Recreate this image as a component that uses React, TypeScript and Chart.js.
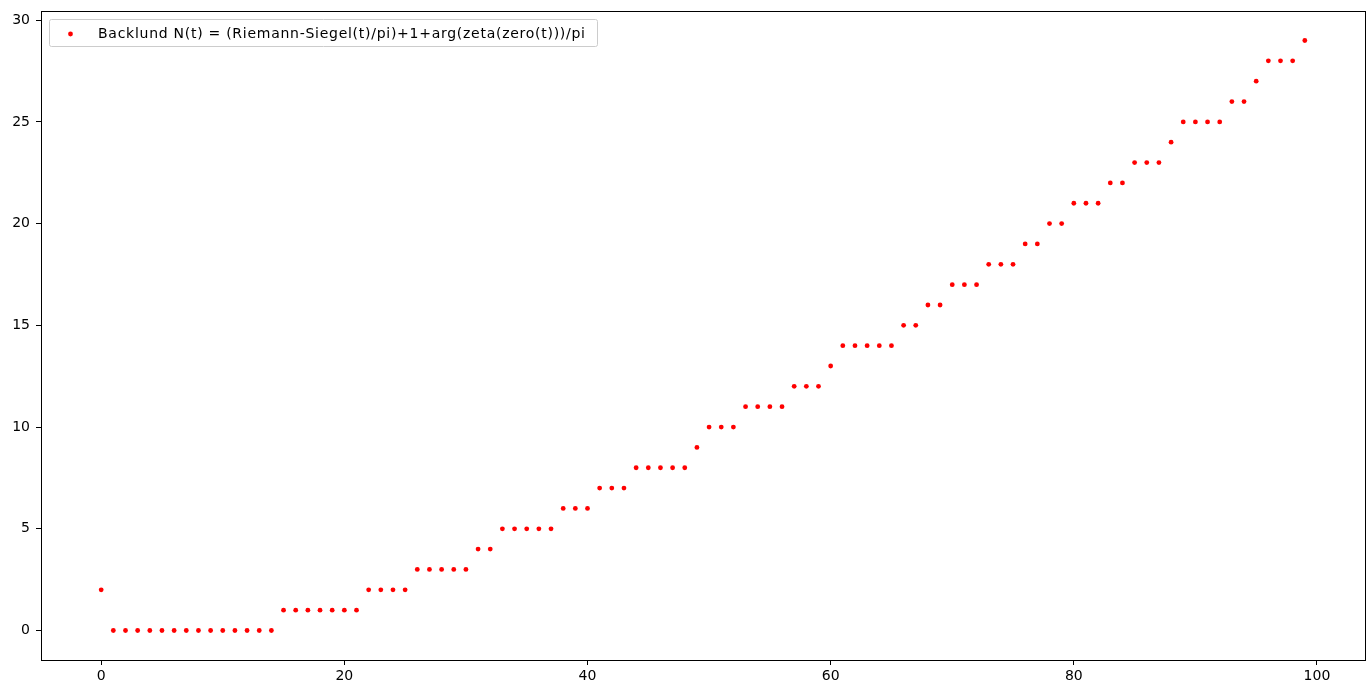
import React, { useEffect, useRef } from "react";
import { Chart, registerables } from "chart.js";

Chart.register(...registerables);

const legendLabel = "Backlund N(t) = (Riemann-Siegel(t)/pi)+1+arg(zeta(zero(t)))/pi";

// N(t) values for t index 0..99
const nValues: number[] = [
  2, 0, 0, 0, 0, 0, 0, 0, 0, 0,
  0, 0, 0, 0, 0, 1, 1, 1, 1, 1,
  1, 1, 2, 2, 2, 2, 3, 3, 3, 3,
  3, 4, 4, 5, 5, 5, 5, 5, 6, 6,
  6, 7, 7, 7, 8, 8, 8, 8, 8, 9,
  10, 10, 10, 11, 11, 11, 11, 12, 12, 12,
  13, 14, 14, 14, 14, 14, 15, 15, 16, 16,
  17, 17, 17, 18, 18, 18, 19, 19, 20, 20,
  21, 21, 21, 22, 22, 23, 23, 23, 24, 25,
  25, 25, 25, 26, 26, 27, 28, 28, 28, 29,
];

const xTicks = [0, 20, 40, 60, 80, 100];
const yTicks = [0, 5, 10, 15, 20, 25, 30];

const FONT = "'DejaVu Sans', sans-serif";

const framePlugin = {
  id: "frame",
  afterDraw(chart: any) {
    const { ctx, chartArea } = chart;
    const { left, right, top, bottom } = chartArea;
    ctx.save();
    ctx.strokeStyle = "#000";
    ctx.lineWidth = 1;
    ctx.strokeRect(Math.round(left) + 0.5, Math.round(top) + 0.5, Math.round(right - left), Math.round(bottom - top));
    // legend
    ctx.font = `14px ${FONT}`;
    const natural = ctx.measureText(legendLabel).width;
    const targetW = 488;
    const spacing = (targetW - natural) / legendLabel.length;
    const bx = 49.5;
    const by = 19.5;
    const bw = 548;
    const bh = 27;
    ctx.fillStyle = "rgba(255,255,255,0.8)";
    ctx.strokeStyle = "#cccccc";
    ctx.lineWidth = 1;
    ctx.beginPath();
    const r = 2;
    ctx.moveTo(bx + r, by);
    ctx.lineTo(bx + bw - r, by);
    ctx.quadraticCurveTo(bx + bw, by, bx + bw, by + r);
    ctx.lineTo(bx + bw, by + bh - r);
    ctx.quadraticCurveTo(bx + bw, by + bh, bx + bw - r, by + bh);
    ctx.lineTo(bx + r, by + bh);
    ctx.quadraticCurveTo(bx, by + bh, bx, by + bh - r);
    ctx.lineTo(bx, by + r);
    ctx.quadraticCurveTo(bx, by, bx + r, by);
    ctx.closePath();
    ctx.fill();
    ctx.stroke();
    ctx.fillStyle = "#ff0000";
    ctx.beginPath();
    ctx.arc(70.5, 34, 2.4, 0, Math.PI * 2);
    ctx.fill();
    ctx.fillStyle = "#000";
    ctx.textBaseline = "middle";
    ctx.textAlign = "left";
    (ctx as any).letterSpacing = `${spacing.toFixed(2)}px`;
    ctx.fillText(legendLabel, 98, 34);
    (ctx as any).letterSpacing = "0px";
    ctx.restore();
  },
};

export default function App() {
  const ref = useRef<HTMLCanvasElement | null>(null);
  useEffect(() => {
    document.body.style.margin = "0";
    const canvas = ref.current;
    if (!canvas) return;
    const points = nValues.map((v, i) => ({ x: i, y: v }));
    const chart = new Chart(canvas, {
      type: "scatter",
      data: {
        datasets: [
          {
            label: legendLabel,
            data: points,
            backgroundColor: "#ff0000",
            borderColor: "#ff0000",
            pointRadius: 2.4,
            pointBorderWidth: 0,
          },
        ],
      },
      options: {
        animation: false,
        responsive: false,
        maintainAspectRatio: false,
        layout: { padding: { left: 0, right: 5, top: 11, bottom: 0 } },
        plugins: {
          legend: { display: false },
          tooltip: { enabled: false },
        },
        scales: {
          x: {
            type: "linear",
            min: -4.95,
            max: 103.95,
            afterBuildTicks: (axis: any) => {
              axis.ticks = xTicks.map((v) => ({ value: v }));
            },
            afterFit: (axis: any) => {
              axis.height = 28;
              axis.paddingLeft = 0;
              axis.paddingRight = 0;
            },
            border: { display: false },
            grid: {
              display: true,
              drawOnChartArea: false,
              drawTicks: true,
              tickLength: 5,
              color: "#000",
              lineWidth: 1,
            },
            ticks: {
              color: "#000",
              font: { family: FONT, size: 14 },
              padding: 3,
              maxRotation: 0,
            },
          },
          y: {
            type: "linear",
            min: -1.45,
            max: 30.45,
            afterBuildTicks: (axis: any) => {
              axis.ticks = yTicks.map((v) => ({ value: v }));
            },
            afterFit: (axis: any) => {
              axis.width = 41;
              axis.paddingTop = 0;
              axis.paddingBottom = 0;
            },
            border: { display: false },
            grid: {
              display: true,
              drawOnChartArea: false,
              drawTicks: true,
              tickLength: 5,
              color: "#000",
              lineWidth: 1,
            },
            ticks: {
              color: "#000",
              font: { family: FONT, size: 14 },
              padding: 6,
            },
          },
        },
      },
      plugins: [framePlugin],
    });
    return () => chart.destroy();
  }, []);
  return (
    <div style={{ position: "fixed", left: 0, top: 0, width: 1370, height: 688, background: "#fff" }}>
      <canvas ref={ref} width={1370} height={688} style={{ width: 1370, height: 688 }} />
    </div>
  );
}
